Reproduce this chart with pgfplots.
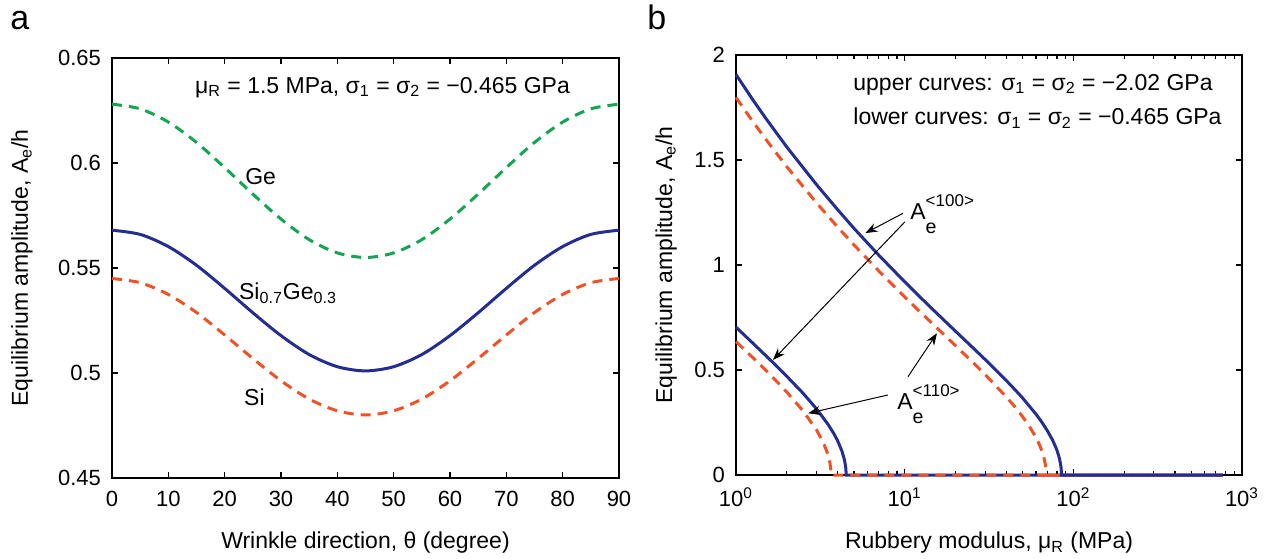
\documentclass[border=0pt]{standalone}
\usepackage{fontspec}
\setmainfont{Liberation Sans}
\usepackage{pgfplots}
\pgfplotsset{compat=1.18}
\usetikzlibrary{arrows.meta}
\definecolor{cblue}{RGB}{36,46,145}
\definecolor{cred}{RGB}{240,82,38}
\definecolor{cgreen}{RGB}{20,165,80}
\newcommand{\fs}{\fontsize{11.5}{13}\selectfont}
\newcommand{\ft}{\fontsize{11}{13}\selectfont}
\newcommand{\Ae}[1]{{\fontsize{11.5}{12}\selectfont A\rlap{\raisebox{6.5pt}{\fontsize{8.5}{9}\selectfont #1}}\raisebox{-7pt}{\fontsize{9.8}{10}\selectfont e}}}
\tikzset{
  arr/.style={-{Stealth[length=6pt,width=4.5pt]}, line width=0.5pt, black},
  blueline/.style={cblue, line width=1.5pt},
  redline/.style={cred, line width=1.5pt, dash pattern=on 5pt off 3.5pt},
  greenline/.style={cgreen, line width=1.5pt, dash pattern=on 5pt off 3.5pt},
}
\pgfplotsset{
  myax/.style={
    scale only axis, anchor=south west,
    axis line style={line width=0.8pt},
    every tick/.style={line width=0.6pt, black},
    tick align=inside,
    major tick length=2.8pt, minor tick length=1.8pt,
    tick label style={font=\ft},
    label style={font=\fs},
    /pgf/number format/assume math mode=true,
    yticklabel style={xshift=-2pt},
    xticklabel style={yshift=-3pt},
    clip=false,
  },
}
\begin{document}
\begin{tikzpicture}
\useasboundingbox (0,0) rectangle (634pt,279pt);
\node[anchor=base west, inner sep=0, font=\fontsize{17}{18}\selectfont] at (5pt,264pt) {a};
\node[anchor=base west, inner sep=0, font=\fontsize{17}{18}\selectfont] at (323.5pt,264pt) {b};
\begin{axis}[myax, at={(56pt,40pt)}, width=253.5pt, height=210pt,
  xmin=0, xmax=90, ymin=0.45, ymax=0.65,
  xtick={0,10,20,30,40,50,60,70,80,90},
  ytick={0.45,0.5,0.55,0.6,0.65},
  xlabel={Wrinkle direction, θ (degree)},
  ylabel={Equilibrium amplitude, A\textsubscript{e}/h},
  xlabel style={at={(axis description cs:0.5,-0.169)}, anchor=base},
  ylabel style={at={(axis description cs:-0.1775,0.5)}, anchor=center},
]
\addplot[greenline, smooth] coordinates {(0,0.628)(5,0.6258)(10,0.6195)(15,0.6098)(20,0.5978)(25,0.5852)(30,0.5733)(35,0.5635)(40,0.5572)(45,0.555)(50,0.5572)(55,0.5635)(60,0.5733)(65,0.5852)(70,0.5978)(75,0.6098)(80,0.6195)(85,0.6258)(90,0.628)};
\addplot[blueline, smooth] coordinates {(0,0.568)(5,0.5660)(10,0.5602)(15,0.5513)(20,0.5403)(25,0.5287)(30,0.5178)(35,0.5088)(40,0.5030)(45,0.501)(50,0.5030)(55,0.5088)(60,0.5178)(65,0.5287)(70,0.5403)(75,0.5513)(80,0.5602)(85,0.5660)(90,0.568)};
\addplot[redline, smooth] coordinates {(0,0.545)(5,0.5430)(10,0.5374)(15,0.5288)(20,0.5181)(25,0.5069)(30,0.4963)(35,0.4876)(40,0.4820)(45,0.480)(50,0.4820)(55,0.4876)(60,0.4963)(65,0.5069)(70,0.5181)(75,0.5288)(80,0.5374)(85,0.5430)(90,0.545)};
\node[anchor=base west, inner sep=0, font=\fs] at (axis cs:14.7,0.6333) {μ\textsubscript{R} = 1.5 MPa, σ\textsubscript{1} = σ\textsubscript{2} = −0.465 GPa};
\node[anchor=base west, inner sep=0, font=\fs] at (axis cs:23.6,0.590) {Ge};
\node[anchor=base west, inner sep=0, font=\fs] at (axis cs:22.5,0.5348) {Si\textsubscript{0.7}Ge\textsubscript{0.3}};
\node[anchor=base west, inner sep=0, font=\fs] at (axis cs:23.4,0.4843) {Si};
\end{axis}
\begin{axis}[myax, at={(368pt,41.5pt)}, width=253pt, height=210pt,
  xmode=log, xmin=1, xmax=1000, ymin=0, ymax=2,
  xtick={1,10,100,1000},
  xticklabels={10\textsuperscript{0},10\textsuperscript{1},10\textsuperscript{2},10\textsuperscript{3}},
  ytick={0,0.5,1,1.5,2},
  xlabel={Rubbery modulus, μ\textsubscript{R} (MPa)},
  ylabel={Equilibrium amplitude, A\textsubscript{e}/h},
  xlabel style={at={(axis description cs:0.5,-0.176)}, anchor=base},
  ylabel style={at={(axis description cs:-0.138,0.5)}, anchor=center},
]
\addplot[blueline] coordinates {(1,0.704)(1.25,0.630)(1.5,0.569)(1.75,0.517)(2,0.470)(2.5,0.389)(3,0.315)(3.5,0.243)(3.8,0.1975)(4,0.164)(4.25,0.113)(4.4,0.0707)(4.48,0.0314)(4.5,0)(770,0)};
\addplot[redline] coordinates {(1,0.635)(1.25,0.561)(1.5,0.499)(1.75,0.444)(2,0.395)(2.5,0.305)(3,0.215)(3.3,0.153)(3.5,0.100)(3.6,0.061)(3.65,0.0246)(3.66,0)(770,0)};
\addplot[redline] coordinates {(1,1.798)(1.25,1.686)(1.5,1.599)(2,1.468)(3,1.296)(4,1.181)(5,1.096)(7,0.973)(10,0.848)(12,0.786)(15,0.712)(20,0.616)(25,0.541)(30,0.478)(40,0.372)(45,0.325)(50,0.278)(55,0.230)(60,0.179)(63,0.1435)(65,0.116)(67,0.081)(68,0.057)(68.6,0.0359)(69,0)(770,0)};
\addplot[blueline] coordinates {(1,1.907)(1.25,1.790)(1.5,1.699)(2,1.562)(3,1.383)(4,1.264)(5,1.175)(7,1.048)(10,0.920)(12,0.857)(15,0.781)(20,0.685)(25,0.611)(30,0.550)(40,0.450)(45,0.407)(50,0.367)(60,0.290)(65,0.252)(70,0.212)(75,0.169)(78,0.139)(80,0.117)(82,0.0895)(83,0.0728)(84,0.0512)(84.5,0.0362)(84.8,0.0228)(85,0)(770,0)};
\node[anchor=base west, inner sep=0, font=\fs] at (axis cs:4.94,1.833) {upper curves: σ\textsubscript{1} = σ\textsubscript{2} = −2.02 GPa};
\node[anchor=base west, inner sep=0, font=\fs] at (axis cs:4.94,1.667) {lower curves: σ\textsubscript{1} = σ\textsubscript{2} = −0.465 GPa};
\node[anchor=base west, inner sep=0] at (axis cs:10.75,1.219) {\Ae{<100>}};
\node[anchor=base west, inner sep=0] at (axis cs:9.0,0.313) {\Ae{<110>}};
\draw[arr] (axis cs:9.77,1.246) -- (axis cs:5.85,1.152);
\draw[arr] (axis cs:10.04,1.206) -- (axis cs:1.657,0.548);
\draw[arr] (axis cs:7.96,0.381) -- (axis cs:2.68,0.294);
\draw[arr] (axis cs:10.46,0.468) -- (axis cs:15.54,0.675);
\end{axis}
\end{tikzpicture}
\end{document}
